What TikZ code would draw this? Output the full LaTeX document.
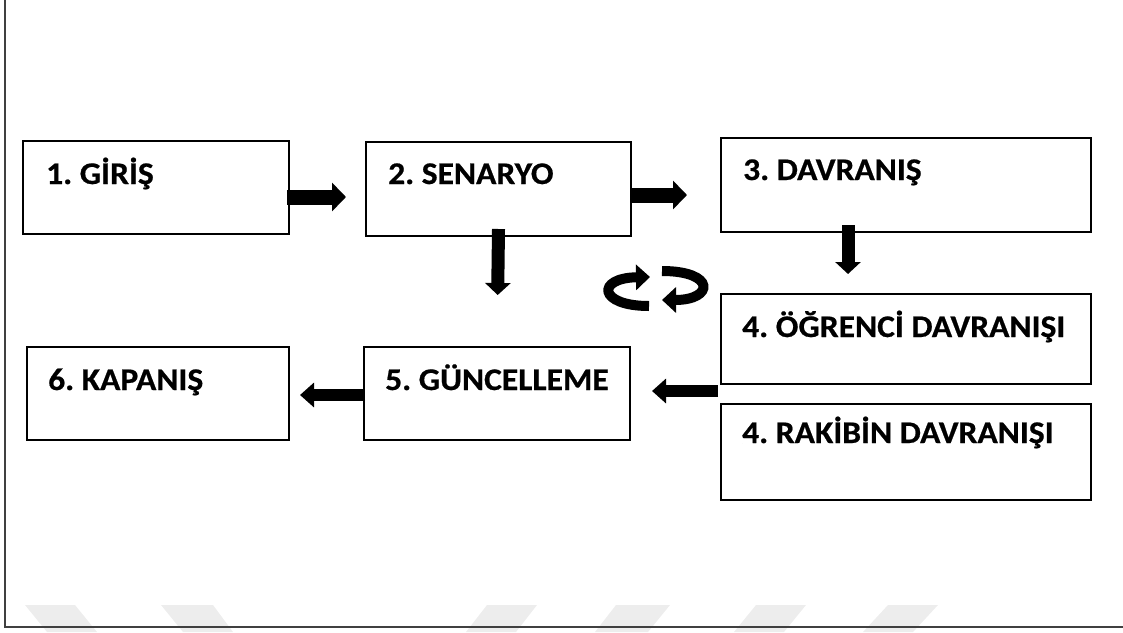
\documentclass[tikz,border=0pt]{standalone}
\usepackage{fontspec}
\setmainfont{Carlito}[FakeStretch=1.065, BoldFeatures={FakeBold=0.6}]
\usetikzlibrary{arrows.meta,calc}
\frenchspacing
\begin{document}
\begin{tikzpicture}[x=1pt,y=-1pt,
  box/.style={draw, line width=2pt, anchor=north west, inner sep=0pt, outer sep=0pt},
  lbl/.style={anchor=base west, inner sep=0pt, font=\fontsize{31.5}{36}\selectfont\bfseries},
  blkh/.style={line width=15pt, -{Triangle[length=14pt,width=28pt]}},
  blkv/.style={line width=13pt, -{Triangle[length=12pt,width=25pt]}},
  blkl/.style={line width=12pt, -{Triangle[length=14pt,width=24pt]}},
  cyc/.style={line width=10pt, -{Triangle[length=14pt,width=25pt]}},
  wm/.style={fill=black!7, draw=none}]
\useasboundingbox (0,0) rectangle (1123,632);
% watermark
\fill[wm] (25,605) -- (75,605) -- (97,632) -- (47,632) -- cycle;
\fill[wm] (161,605) -- (213,605) -- (233,632) -- (183,632) -- cycle;
\fill[wm] (487,605) -- (537,605) -- (516,632) -- (466,632) -- cycle;
\fill[wm] (616,605) -- (670,605) -- (648,632) -- (595,632) -- cycle;
\fill[wm] (756,605) -- (806,605) -- (784,632) -- (734,632) -- cycle;
\fill[wm] (888,605) -- (938,605) -- (913,632) -- (863,632) -- cycle;
% frame
\draw[line width=1.2pt, black!75] (5,0) -- (5,627) -- (1123,627);
% boxes
\node[box, minimum width=266pt, minimum height=93pt] (b1) at (23,141) {};
\node[box, minimum width=265pt, minimum height=94pt] (b2) at (366,142) {};
\node[box, minimum width=370pt, minimum height=94pt] (b3) at (721,138) {};
\node[box, minimum width=370pt, minimum height=90pt] (b4a) at (721,294) {};
\node[box, minimum width=370pt, minimum height=96pt] (b4b) at (721,404) {};
\node[box, minimum width=266pt, minimum height=93pt] (b5) at (364,347) {};
\node[box, minimum width=262pt, minimum height=93pt] (b6) at (27,347) {};
% labels
\node[lbl] (t1) at ($(b1.north west)+(23,43)$) {1. GİRİŞ};
\node[lbl] (t2) at ($(b2.north west)+(22,42)$) {2. SENARYO};
\node[lbl] (t3) at ($(b3.north west)+(22,42)$) {3. DAVRANIŞ};
\node[lbl] (t4a) at ($(b4a.north west)+(21,43)$) {4. ÖĞRENCİ DAVRANIŞI};
\node[lbl] (t4b) at ($(b4b.north west)+(21,39)$) {4. RAKİBİN DAVRANIŞI};
\node[lbl] (t5) at ($(b5.north west)+(21,43)$) {5. GÜNCELLEME};
\node[lbl] (t6) at ($(b6.north west)+(21,43)$) {6. KAPANIŞ};
% block arrows
\draw[blkh, shorten >=20pt] ($(b1.east)+(-2,9.5)$) -- ($(b2.west)+(0,8)$);
\draw[blkh, shorten >=34pt] ($(b2.east)+(-1,6)$) -- ($(b3.west)+(0,10)$);
\draw[blkv, shorten >=52pt] ($(b2.south)+(0,-7)$) -- (b5.north);
\draw[blkv, shorten >=20pt] ($(b3.south)+(-58,-7)$) -- ($(b4a.north)+(-58,0)$);
\draw[blkl, shorten >=22pt] ($(b4a.south west)!0.5!(b4b.north west)+(-3,-3)$) -- ($(b5.east)+(0,-2.5)$);
\draw[blkl, shorten >=11pt] ($(b5.west)+(1,1.5)$) -- ($(b6.east)+(0,1.5)$);
% cycle symbol
\draw[cyc] (649,306) .. controls (598,306) and (596,278) .. (650,277);
\draw[cyc] (662,271) .. controls (716,271) and (714,300) .. (662,300);
\end{tikzpicture}
\end{document}
